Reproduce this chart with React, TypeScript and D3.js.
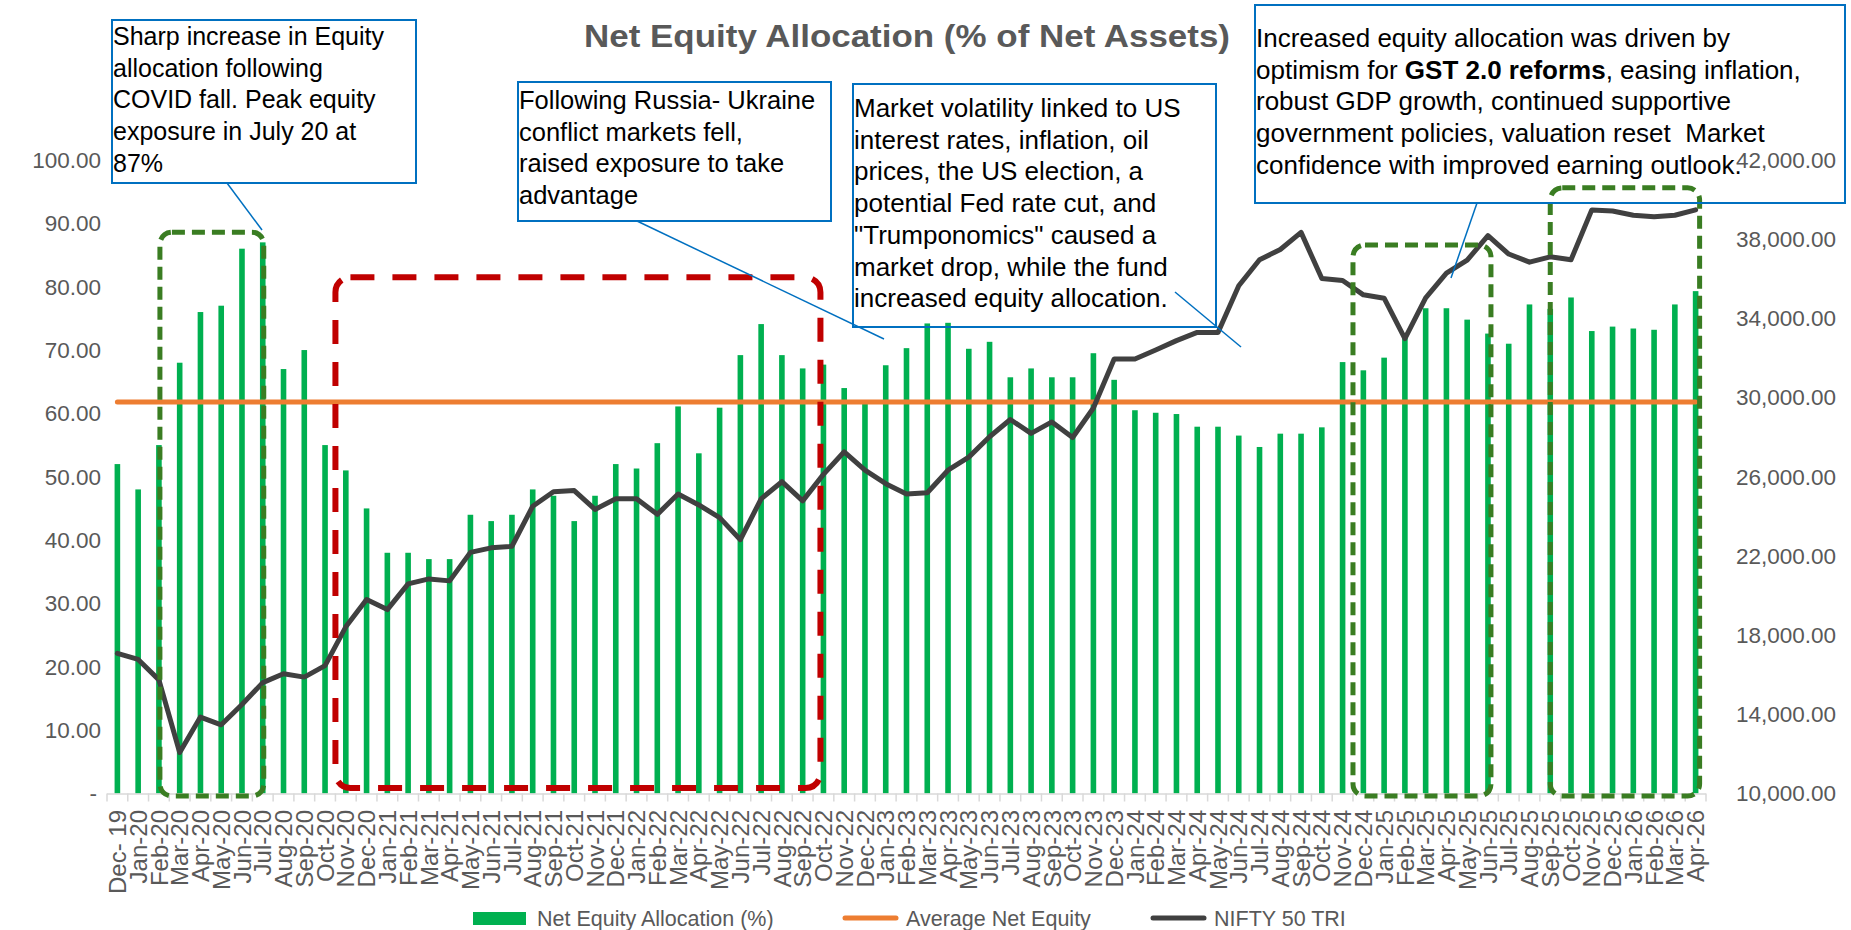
import React from 'react';
import * as d3 from 'd3';

// monthly categories, Dec-19 .. Apr-26
const months = [
  'Dec- 19', 'Jan-20', 'Feb-20', 'Mar-20', 'Apr-20', 'May-20', 'Jun-20', 'Jul-20', 'Aug-20', 'Sep-20', 'Oct-20', 'Nov-20',
  'Dec-20', 'Jan-21', 'Feb-21', 'Mar-21', 'Apr-21', 'May-21', 'Jun-21', 'Jul-21', 'Aug-21', 'Sep-21', 'Oct-21', 'Nov-21',
  'Dec-21', 'Jan-22', 'Feb-22', 'Mar-22', 'Apr-22', 'May-22', 'Jun-22', 'Jul-22', 'Aug-22', 'Sep-22', 'Oct-22', 'Nov-22',
  'Dec-22', 'Jan-23', 'Feb-23', 'Mar-23', 'Apr-23', 'May-23', 'Jun-23', 'Jul-23', 'Aug-23', 'Sep-23', 'Oct-23', 'Nov-23',
  'Dec-23', 'Jan-24', 'Feb-24', 'Mar-24', 'Apr-24', 'May-24', 'Jun-24', 'Jul-24', 'Aug-24', 'Sep-24', 'Oct-24', 'Nov-24',
  'Dec-24', 'Jan-25', 'Feb-25', 'Mar-25', 'Apr-25', 'May-25', 'Jun-25', 'Jul-25', 'Aug-25', 'Sep-25', 'Oct-25', 'Nov-25',
  'Dec-25', 'Jan-26', 'Feb-26', 'Mar-26', 'Apr-26',
];

const netEquity = [
  52, 48, 55, 68, 76, 77, 86, 87, 67, 70, 55, 51,
  45, 38, 38, 37, 37, 44, 43, 44, 48, 47, 43, 47,
  52, 51.3, 55.3, 61.1, 53.7, 60.9, 69.2, 74.1, 69.2, 67.1, 67.7, 64.0,
  61.5, 67.6, 70.3, 74.2, 74.3, 70.2, 71.3, 65.7, 67.1, 65.7, 65.7, 69.5,
  65.3, 60.5, 60.1, 59.9, 57.9, 57.9, 56.5, 54.7, 56.8, 56.8, 57.8, 68.1,
  66.8, 68.8, 72.0, 76.6, 76.6, 74.8, 72.6, 71.0, 77.2, 76.5, 78.3, 73.0,
  73.7, 73.4, 73.2, 77.2, 79.3,
];

const nifty = [
  17080, 16770, 15740, 12070, 13860, 13470, 14500, 15600, 16050, 15880, 16460, 18420,
  19800, 19290, 20590, 20840, 20740, 22180, 22410, 22490, 24510, 25240, 25300, 24350,
  24890, 24885, 24100, 25130, 24575, 23935, 22820, 24885, 25750, 24780, 26120, 27260,
  26330, 25650, 25130, 25190, 26330, 26990, 28020, 28890, 28190, 28770, 27980, 29470,
  31950, 31950, 32400, 32875, 33290, 33290, 35650, 36960, 37480, 38345, 36010, 35910,
  35190, 35020, 32980, 35040, 36280, 36940, 38180, 37250, 36840, 37110, 36960, 39480,
  39420, 39210, 39130, 39210, 39480,
];

const averageNetEquity = 61.8;

const leftTicks = [0, 10, 20, 30, 40, 50, 60, 70, 80, 90, 100];
const rightTicks = [10000, 14000, 18000, 22000, 26000, 30000, 34000, 38000, 42000];

const legendItems = ['Net Equity Allocation (%)', 'Average Net Equity', 'NIFTY 50 TRI'];

const noteCovid = ['Sharp increase in Equity', 'allocation following', 'COVID fall. Peak equity', 'exposure in July 20 at', '87%'];
const noteUkraine = ['Following Russia- Ukraine', 'conflict markets fell,', 'raised exposure to take', 'advantage'];
const noteUS = [
  'Market volatility linked to US',
  'interest rates, inflation, oil',
  'prices, the US election, a',
  'potential Fed rate cut, and',
  '"Trumponomics" caused a',
  'market drop, while the fund',
  'increased equity allocation.',
];
const noteGST = [
  'Increased equity allocation was driven by',
  'optimism for |GST 2.0 reforms|, easing inflation,',
  'robust GDP growth, continued supportive',
  'government policies, valuation reset  Market',
  'confidence with improved earning outlook.',
];

const W = 1851;
const H = 930;
const plot = { left: 107, right: 1706, top: 160, bottom: 793.5 };

const GRAY = '#595959';
const FONT = '"Liberation Sans", Arial, sans-serif';

export default function App() {
  const x = d3.scaleBand<string>().domain(months).range([plot.left, plot.right]).padding(0);
  const bw = x.bandwidth();
  const cx = (m: string) => (x(m) as number) + bw / 2;
  const yL = d3.scaleLinear().domain([0, 100]).range([plot.bottom, plot.top]);
  const yR = d3.scaleLinear().domain([10000, 42000]).range([plot.bottom, plot.top]);

  const niftyLine = d3
    .line<number>()
    .x((_, i) => cx(months[i]))
    .y((d) => yR(d))(nifty) as string;

  const barW = 5.6;

  // rounded dashed highlight boxes, anchored on categories
  const boxes = [
    { x0: cx('Feb-20') + 1, x1: cx('Jul-20') + 1, top: yL(88.6), bottom: 796, color: '#3A7D22', w: 5, dash: '13 7', r: 12 },
    { x0: x('Nov-20') as number, x1: cx('Oct-22') - 3, top: yL(81.5), bottom: 788, color: '#C00000', w: 6, dash: '24 18', r: 15 },
    { x0: x('Dec-24') as number, x1: cx('Jun-25') + 3, top: yL(86.6), bottom: 796, color: '#3A7D22', w: 5, dash: '13 7', r: 12 },
    { x0: cx('Sep-25'), x1: cx('Apr-26') + 4, top: yL(95.6), bottom: 796, color: '#3A7D22', w: 5, dash: '13 7', r: 12 },
  ];

  const noteBox = (
    lines: string[],
    bx: number,
    by: number,
    bwid: number,
    bh: number,
    tx: number,
    firstBase: number,
    step: number,
    size: number,
  ) => (
    <g>
      <rect x={bx} y={by} width={bwid} height={bh} fill="none" stroke="#0070C0" strokeWidth={2} />
      {lines.map((ln, i) => {
        const parts = ln.split('|');
        return (
          <text
            key={i}
            x={tx}
            y={firstBase + i * step}
            fontSize={size}
            fontFamily={FONT}
            fill="#000"
            style={{ whiteSpace: 'pre' }}
          >
            {parts.map((p, j) => (
              <tspan key={j} fontWeight={j === 1 ? 'bold' : 'normal'}>
                {p}
              </tspan>
            ))}
          </text>
        );
      })}
    </g>
  );

  return (
    <svg width={W} height={H} style={{ position: 'absolute', left: 0, top: 0, background: '#fff' }}>
      {/* title */}
      <text
        x={907}
        y={47}
        textAnchor="middle"
        fontFamily={FONT}
        fontWeight="bold"
        fontSize={31}
        fill={GRAY}
        textLength={646}
        lengthAdjust="spacingAndGlyphs"
      >
        Net Equity Allocation (% of Net Assets)
      </text>

      {/* bars */}
      {netEquity.map((v, i) => (
        <rect
          key={i}
          x={cx(months[i]) - barW / 2}
          y={yL(v)}
          width={barW}
          height={plot.bottom - yL(v)}
          fill="#00B050"
        />
      ))}

      {/* x axis */}
      <line x1={plot.left} x2={plot.right} y1={plot.bottom + 0.5} y2={plot.bottom + 0.5} stroke="#D9D9D9" strokeWidth={1.5} />
      {months.map((m) => (
        <line key={'t' + m} x1={x(m) as number} x2={x(m) as number} y1={plot.bottom} y2={plot.bottom + 8} stroke="#D9D9D9" strokeWidth={1.5} />
      ))}
      <line x1={plot.right} x2={plot.right} y1={plot.bottom} y2={plot.bottom + 8} stroke="#D9D9D9" strokeWidth={1.5} />
      {months.map((m) => (
        <text
          key={'l' + m}
          transform={`translate(${cx(m)},${810}) rotate(-90)`}
          textAnchor="end"
          dy="0.36em"
          fontFamily={FONT}
          fontSize={24}
          fill={GRAY}
          style={{ whiteSpace: 'pre' }}
        >
          {m}
        </text>
      ))}

      {/* left axis labels */}
      {leftTicks.map((t) => (
        <text
          key={'yl' + t}
          x={t === 0 ? 97 : 101}
          y={yL(t)}
          dy="0.35em"
          textAnchor="end"
          fontFamily={FONT}
          fontSize={22.5}
          fill={GRAY}
        >
          {t === 0 ? '-' : d3.format('.2f')(t)}
        </text>
      ))}

      {/* right axis labels */}
      {rightTicks.map((t) => (
        <text
          key={'yr' + t}
          x={1836}
          y={yR(t)}
          dy="0.35em"
          textAnchor="end"
          fontFamily={FONT}
          fontSize={22.5}
          fill={GRAY}
        >
          {d3.format(',.2f')(t)}
        </text>
      ))}

      {/* average net equity */}
      <line
        x1={cx(months[0])}
        x2={cx(months[months.length - 1])}
        y1={yL(averageNetEquity)}
        y2={yL(averageNetEquity)}
        stroke="#ED7D31"
        strokeWidth={5}
        strokeLinecap="round"
      />

      {/* NIFTY 50 TRI */}
      <path d={niftyLine} fill="none" stroke="#404040" strokeWidth={5} strokeLinejoin="round" strokeLinecap="round" />

      {/* highlight boxes */}
      {boxes.map((b, i) => (
        <rect
          key={'b' + i}
          x={b.x0}
          y={b.top}
          width={b.x1 - b.x0}
          height={b.bottom - b.top}
          rx={b.r}
          fill="none"
          stroke={b.color}
          strokeWidth={b.w}
          strokeDasharray={b.dash}
        />
      ))}

      {/* callouts */}
      {noteBox(noteCovid, 112, 20, 304, 163, 113, 45, 31.7, 25)}
      {noteBox(noteUkraine, 518, 82, 313, 139, 519, 109, 31.5, 25.5)}
      {noteBox(noteUS, 853, 84, 363, 243, 854, 117, 31.7, 26)}
      {noteBox(noteGST, 1255, 5, 590, 198, 1256, 47, 31.7, 26)}

      <g stroke="#0070C0" strokeWidth={1.5}>
        <line x1={227} y1={183} x2={262} y2={230} />
        <line x1={637} y1={221} x2={884} y2={339} />
        <line x1={1175} y1={292} x2={1241} y2={347} />
        <line x1={1477} y1={203} x2={1451} y2={278} />
      </g>

      {/* legend */}
      <g fontFamily={FONT} fontSize={21.5} fill={GRAY}>
        <rect x={473} y={912} width={53} height={13} fill="#00B050" />
        <text x={537} y={918} dy="0.35em">{legendItems[0]}</text>
        <line x1={845} x2={896} y1={918} y2={918} stroke="#ED7D31" strokeWidth={5} strokeLinecap="round" />
        <text x={906} y={918} dy="0.35em">{legendItems[1]}</text>
        <line x1={1153} x2={1204} y1={918} y2={918} stroke="#404040" strokeWidth={5} strokeLinecap="round" />
        <text x={1214} y={918} dy="0.35em">{legendItems[2]}</text>
      </g>
    </svg>
  );
}
